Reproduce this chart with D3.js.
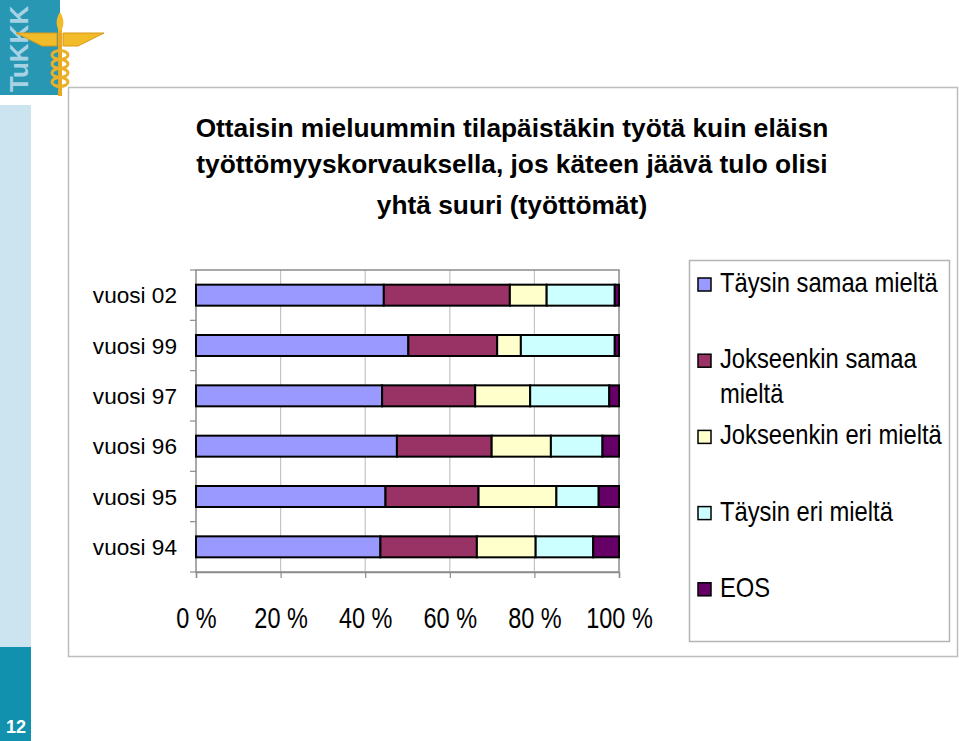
<!DOCTYPE html>
<html>
<head>
<meta charset="utf-8">
<script src="https://cdn.jsdelivr.net/npm/d3@7"></script>
<style>
  body { margin: 0; background: #fff; }
  svg { display: block; font-family: "Liberation Sans", Arial, sans-serif; }
</style>
</head>
<body>
<script>
// data (percent of answers)
const categories = ['vuosi 02', 'vuosi 99', 'vuosi 97', 'vuosi 96', 'vuosi 95', 'vuosi 94'];
const seriesNames = ['Täysin samaa mieltä', 'Jokseenkin samaa mieltä', 'Jokseenkin eri mieltä', 'Täysin eri mieltä', 'EOS'];
const taysinSamaa = [44.4, 50.2, 44.0, 47.5, 44.8, 43.6];
const jokseenkinSamaa = [29.8, 21.0, 22.0, 22.4, 22.0, 22.8];
const jokseenkinEri = [8.7, 5.6, 13.0, 14.0, 18.4, 13.9];
const taysinEri = [16.1, 22.2, 18.7, 12.2, 10.0, 13.6];
const eos = [1.0, 1.0, 2.3, 3.9, 4.8, 6.1];
const xTicks = [0, 20, 40, 60, 80, 100];
const titleLines = [
  'Ottaisin mieluummin tilapäistäkin työtä kuin eläisn',
  'työttömyyskorvauksella, jos käteen jäävä tulo olisi',
  'yhtä suuri (työttömät)'
];
const pageNumber = '12';

const colors = ['#9999ff', '#993366', '#ffffcc', '#ccffff', '#660066'];
const seriesValues = [taysinSamaa, jokseenkinSamaa, jokseenkinEri, taysinEri, eos];

const svgWidth = 959;
const svgHeight = 741;
const plot = { left: 196, right: 619, top: 270, bottom: 572 };

const svg = d3.select('body').append('svg')
  .attr('width', svgWidth)
  .attr('height', svgHeight);

// --- page decoration (logo strip, page number) ---
svg.append('rect').attr('x', 0).attr('y', 0).attr('width', 60).attr('height', 95).attr('fill', '#2797b4');
svg.append('text')
  .attr('transform', 'translate(28,92) rotate(-90)')
  .attr('font-size', 26).attr('font-weight', 'bold')
  .attr('fill', '#a6d2e3')
  .text('TuKKK');
const logo = svg.append('g');
logo.append('path').attr('d', 'M16,33 L57,33 L57,46 L42,46 Z').attr('fill', '#f2bb2a').attr('stroke', '#d9981a');
logo.append('path').attr('d', 'M104,33 L63,33 L63,46 L78,46 Z').attr('fill', '#f2bb2a').attr('stroke', '#d9981a');
logo.append('rect').attr('x', 58).attr('y', 22).attr('width', 4).attr('height', 74).attr('fill', '#e8a820');
logo.append('path').attr('d', 'M60,12 C55,20 56,27 60,32 C64,27 65,20 60,12 Z').attr('fill', '#f2bb2a');
[55, 64, 73, 82].forEach(cy => {
  logo.append('ellipse').attr('cx', 60).attr('cy', cy).attr('rx', 8).attr('ry', 4.5)
    .attr('fill', 'none').attr('stroke', '#eab02a').attr('stroke-width', 3);
});
svg.append('rect').attr('x', 0).attr('y', 105).attr('width', 31).attr('height', 542).attr('fill', '#cbe4ef');
svg.append('rect').attr('x', 0).attr('y', 647).attr('width', 31).attr('height', 94).attr('fill', '#1191ad');
svg.append('text')
  .attr('x', 16).attr('y', 733)
  .attr('text-anchor', 'middle')
  .attr('font-size', 18).attr('font-weight', 'bold')
  .attr('fill', '#fff')
  .text(pageNumber);

// chart frame
svg.append('rect')
  .attr('x', 68.5).attr('y', 87.5)
  .attr('width', 889).attr('height', 569)
  .attr('fill', '#fff')
  .attr('stroke', '#bdbdbd')
  .attr('stroke-width', 1.5);

// title
svg.append('g').selectAll('text')
  .data(titleLines)
  .enter()
  .append('text')
  .attr('x', 512)
  .attr('y', (d, i) => [137, 173, 214][i])
  .attr('text-anchor', 'middle')
  .attr('font-size', 26.3)
  .attr('font-weight', 'bold')
  .attr('fill', '#000')
  .text(d => d);

// --- scales ---
const xScale = d3.scaleLinear()
  .domain([0, 100])
  .range([plot.left, plot.right]);

const yScale = d3.scaleBand()
  .domain(categories)
  .range([plot.top, plot.bottom])
  .paddingInner(0.583)
  .paddingOuter(0.2915);

// gridlines
svg.append('g').selectAll('line')
  .data(xTicks.slice(1, -1))
  .enter()
  .append('line')
  .attr('x1', d => xScale(d)).attr('x2', d => xScale(d))
  .attr('y1', plot.top).attr('y2', plot.bottom)
  .attr('stroke', '#c4c4c4')
  .attr('stroke-width', 1.2);

// plot border
svg.append('rect')
  .attr('x', plot.left).attr('y', plot.top)
  .attr('width', plot.right - plot.left).attr('height', plot.bottom - plot.top)
  .attr('fill', 'none')
  .attr('stroke', '#8c8c8c')
  .attr('stroke-width', 1.5);

// x axis
const xAxis = d3.axisBottom(xScale)
  .tickValues(xTicks)
  .tickFormat(d => `${d} %`)
  .tickSize(6);

const xg = svg.append('g')
  .attr('transform', `translate(0, ${plot.bottom})`)
  .call(xAxis);
xg.select('.domain').attr('stroke', '#8c8c8c').attr('stroke-width', 1.5);
xg.selectAll('.tick line').attr('stroke', '#8c8c8c').attr('stroke-width', 1.2);
xg.selectAll('.tick text')
  .attr('y', 56).attr('dy', 0)
  .attr('font-size', 29)
  .attr('font-family', '"Liberation Sans", Arial, sans-serif')
  .attr('fill', '#000')
  .attr('transform', 'scale(0.81,1)');

// y axis: category labels and ticks at the band boundaries
const step = yScale.step();
svg.append('g').selectAll('line')
  .data(d3.range(categories.length + 1))
  .enter()
  .append('line')
  .attr('x1', plot.left - 6).attr('x2', plot.left)
  .attr('y1', i => plot.top + i * step).attr('y2', i => plot.top + i * step)
  .attr('stroke', '#8c8c8c')
  .attr('stroke-width', 1.2);

svg.append('g').selectAll('text')
  .data(categories)
  .enter()
  .append('text')
  .attr('x', 177)
  .attr('y', d => yScale(d) + yScale.bandwidth() / 2 + 8)
  .attr('text-anchor', 'end')
  .attr('font-size', 22.6)
  .attr('fill', '#000')
  .text(d => d);

// --- stacked bars ---
const rows = categories.map((c, i) => {
  const row = { category: c };
  seriesNames.forEach((s, j) => { row[s] = seriesValues[j][i]; });
  return row;
});

const stacked = d3.stack().keys(seriesNames)(rows);

svg.append('g').selectAll('g')
  .data(stacked)
  .enter()
  .append('g')
  .attr('fill', (d, i) => colors[i])
  .selectAll('rect')
  .data(d => d)
  .enter()
  .append('rect')
  .attr('x', d => xScale(d[0]))
  .attr('y', d => yScale(d.data.category))
  .attr('width', d => xScale(d[1]) - xScale(d[0]))
  .attr('height', yScale.bandwidth())
  .attr('stroke', '#000')
  .attr('stroke-width', 2);

// --- legend ---
svg.append('rect')
  .attr('x', 689.5).attr('y', 260.5)
  .attr('width', 260).attr('height', 381)
  .attr('fill', '#fff')
  .attr('stroke', '#b4b4b4')
  .attr('stroke-width', 1.5);

const legendSx = 0.88;
const legendMaxWidth = 228;
const legend = svg.append('g').selectAll('g')
  .data(seriesNames)
  .enter()
  .append('g')
  .attr('transform', (d, i) => `translate(0, ${292 + i * 76.2})`);

legend.append('rect')
  .attr('x', 698).attr('y', -14)
  .attr('width', 13).attr('height', 13)
  .attr('fill', (d, i) => colors[i])
  .attr('stroke', '#000')
  .attr('stroke-width', 1.5);

legend.each(function (name) {
  const g = d3.select(this);
  const t = g.append('text')
    .attr('transform', `scale(${legendSx},1)`)
    .attr('x', 720 / legendSx)
    .attr('font-size', 27)
    .attr('fill', '#000');
  // simple word wrap to the legend width
  const words = name.split(' ');
  let line = [];
  let tspan = t.append('tspan').attr('x', 720 / legendSx).attr('dy', 0);
  words.forEach((w) => {
    line.push(w);
    tspan.text(line.join(' '));
    if (tspan.node().getComputedTextLength() * legendSx > legendMaxWidth && line.length > 1) {
      line.pop();
      tspan.text(line.join(' '));
      line = [w];
      tspan = t.append('tspan').attr('x', 720 / legendSx).attr('dy', 35).text(w);
    }
  });
});
</script>
</body>
</html>
